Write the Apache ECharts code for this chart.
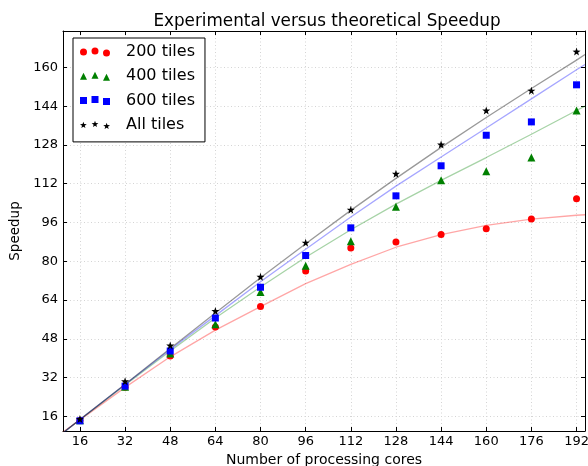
<!DOCTYPE html>
<html>
<head>
<meta charset="utf-8">
<script src="https://cdn.jsdelivr.net/npm/echarts@6/dist/echarts.min.js"></script>
<style>
html,body{margin:0;padding:0;background:#fff;}
#main{width:588px;height:466px;}
</style>
</head>
<body>
<div id="main"></div>
<script>
// ---- data ----
const cores = [16, 32, 48, 64, 80, 96, 112, 128, 144, 160, 176, 192];
const tiles200 = [14.3, 28.0, 40.9, 52.9, 61.4, 76.0, 85.5, 88.0, 91.1, 93.4, 97.5, 105.8];
const tiles400 = [14.4, 28.3, 42.0, 54.0, 67.3, 78.2, 88.3, 102.5, 113.4, 117.1, 122.8, 142.2];
const tiles600 = [14.2, 28.5, 43.0, 56.6, 69.3, 82.4, 93.8, 107.0, 119.4, 132.0, 137.5, 152.8];
const tilesAll = [14.9, 30.5, 45.3, 59.5, 73.6, 87.7, 101.3, 116.1, 128.2, 142.2, 150.4, 166.5];

// theoretical curves
const theoX = [10, 16, 32, 48, 64, 80, 96, 112, 128, 144, 160, 176, 192, 195];
const theo200 = [9.6, 14.6, 28.0, 40.6, 51.6, 61.3, 70.8, 78.7, 85.8, 91.0, 94.8, 97.4, 99.0, 99.2];
const theo400 = [9.3, 14.6, 29.0, 43.0, 56.6, 69.4, 81.7, 93.0, 103.6, 113.4, 122.8, 132.4, 142.2, 144.0];
const theo600 = [9.2, 14.7, 29.2, 43.6, 57.6, 71.6, 85.0, 98.3, 111.0, 123.0, 135.0, 147.0, 159.0, 161.2];
const theoAll = [9.2, 14.7, 29.3, 44.0, 58.7, 73.2, 87.2, 101.0, 114.2, 127.0, 139.3, 151.3, 163.0, 165.3];

const xTicks = [16, 32, 48, 64, 80, 96, 112, 128, 144, 160, 176, 192];
const yTicks = [16, 32, 48, 64, 80, 96, 112, 128, 144, 160];
const seriesNames = ['200 tiles', '400 tiles', '600 tiles', 'All tiles'];

// ---- helpers ----
function pairs(xs, ys) { return xs.map((x, i) => [x, ys[i]]); }
function circ(cx, cy, r) { return `M${cx - r},${cy} a${r},${r} 0 1,0 ${2 * r},0 a${r},${r} 0 1,0 ${-2 * r},0 Z `; }
function tri(cx, cy, r) { return `M${cx},${cy - r} L${cx + r},${cy + r} L${cx - r},${cy + r} Z `; }
function sq(cx, cy, r) { return `M${cx - r},${cy - r} L${cx + r},${cy - r} L${cx + r},${cy + r} L${cx - r},${cy + r} Z `; }
function star(cx, cy, r) {
  let s = '';
  for (let k = 0; k < 10; k++) {
    const a = (-90 + k * 36) * Math.PI / 180;
    const rr = (k % 2 === 0) ? r : r * 0.4;
    s += (k === 0 ? 'M' : 'L') + (cx + rr * Math.cos(a)).toFixed(3) + ',' + (cy + rr * Math.sin(a)).toFixed(3) + ' ';
  }
  return s + 'Z ';
}
function three(fn, r) {
  return 'path://' + fn(3.5, 4.5, r) + fn(15, 3.5, r) + fn(26.5, 5.5, r);
}
const starSymbol = 'path://' + star(0, 0, 10);

const FONT = 'DejaVu Sans';
const red = '#ff0000', green = '#008000', blue = '#0000ff', black = '#000000';

const axisCommon = {
  min: 10,
  axisLine: { show: true, onZero: false, lineStyle: { color: '#000', width: 1 } },
};
const gridLine = { color: '#d4d4d4', type: [1, 2.5], width: 1 };

const option = {
  animation: false,
  backgroundColor: '#ffffff',
  textStyle: { fontFamily: FONT },
  title: {
    text: 'Experimental versus theoretical Speedup',
    left: 322, top: 8, textAlign: 'center',
    textStyle: { fontFamily: FONT, fontSize: 16.8, fontWeight: 'normal', color: '#000' }
  },
  grid: { left: 63, right: 3, top: 31, bottom: 35, containLabel: false, outerBoundsMode: 'none' },
  legend: {
    orient: 'vertical',
    left: 73, top: 38,
    padding: [5, 10, 8, 7],
    itemGap: 6.3,
    itemWidth: 30, itemHeight: 9,
    backgroundColor: '#fff',
    borderColor: '#000', borderWidth: 1, borderRadius: 0,
    selectedMode: false,
    textStyle: { fontFamily: FONT, fontSize: 16, color: '#000', lineHeight: 18, padding: [0, 0, 0, 11] },
    data: [
      { name: seriesNames[0], icon: three(circ, 3.5), itemStyle: { color: red } },
      { name: seriesNames[1], icon: three(tri, 3.5), itemStyle: { color: green } },
      { name: seriesNames[2], icon: three(sq, 3.5), itemStyle: { color: blue } },
      { name: seriesNames[3], icon: three(star, 3.5), itemStyle: { color: black } }
    ]
  },
  xAxis: [
    Object.assign({}, axisCommon, {
      type: 'value', max: 195, position: 'bottom',
      name: 'Number of processing cores', nameLocation: 'middle', nameGap: 22,
      nameTextStyle: { fontFamily: FONT, fontSize: 14, color: '#000' },
      axisTick: { show: true, inside: true, length: 4, customValues: xTicks, lineStyle: { color: '#000' } },
      axisLabel: { show: true, customValues: xTicks, margin: 4, fontFamily: FONT, fontSize: 13, color: '#000' },
      splitLine: { show: true, customValues: xTicks, lineStyle: gridLine }
    }),
    Object.assign({}, axisCommon, {
      type: 'value', max: 195, position: 'top',
      axisTick: { show: true, inside: true, length: 4, customValues: xTicks, lineStyle: { color: '#000' } },
      axisLabel: { show: false },
      splitLine: { show: false }
    })
  ],
  yAxis: [
    Object.assign({}, axisCommon, {
      type: 'value', max: 175, position: 'left',
      name: 'Speedup', nameLocation: 'middle', nameGap: 39,
      nameTextStyle: { fontFamily: FONT, fontSize: 13.5, color: '#000' },
      axisTick: { show: true, inside: true, length: 4, customValues: yTicks, lineStyle: { color: '#000' } },
      axisLabel: { show: true, customValues: yTicks, margin: 5, fontFamily: FONT, fontSize: 13, color: '#000' },
      splitLine: { show: true, customValues: yTicks, lineStyle: gridLine }
    }),
    Object.assign({}, axisCommon, {
      type: 'value', max: 175, position: 'right',
      axisTick: { show: true, inside: true, length: 4, customValues: yTicks, lineStyle: { color: '#000' } },
      axisLabel: { show: false },
      splitLine: { show: false }
    })
  ],
  series: [
    { type: 'line', name: 'theo200', data: pairs(theoX, theo200), smooth: false, showSymbol: false, symbol: 'none', clip: true, lineStyle: { color: 'rgba(255,0,0,0.35)', width: 1.3 }, z: 1, silent: true },
    { type: 'line', name: 'theo400', data: pairs(theoX, theo400), smooth: false, showSymbol: false, symbol: 'none', clip: true, lineStyle: { color: 'rgba(0,128,0,0.35)', width: 1.3 }, z: 1, silent: true },
    { type: 'line', name: 'theo600', data: pairs(theoX, theo600), smooth: false, showSymbol: false, symbol: 'none', clip: true, lineStyle: { color: 'rgba(0,0,255,0.35)', width: 1.3 }, z: 1, silent: true },
    { type: 'line', name: 'theoAll', data: pairs(theoX, theoAll), smooth: false, showSymbol: false, symbol: 'none', clip: true, lineStyle: { color: 'rgba(0,0,0,0.4)', width: 1.3 }, z: 1, silent: true },
    { type: 'scatter', name: seriesNames[0], data: pairs(cores, tiles200), symbol: 'circle', symbolSize: 7, itemStyle: { color: red, opacity: 1 }, z: 3 },
    { type: 'scatter', name: seriesNames[1], data: pairs(cores, tiles400), symbol: 'triangle', symbolSize: 8, itemStyle: { color: green, opacity: 1 }, z: 3 },
    { type: 'scatter', name: seriesNames[2], data: pairs(cores, tiles600), symbol: 'rect', symbolSize: 7, itemStyle: { color: blue, opacity: 1 }, z: 3 },
    { type: 'scatter', name: seriesNames[3], data: pairs(cores, tilesAll), symbol: starSymbol, symbolSize: 8, itemStyle: { color: black, opacity: 1 }, z: 3 }
  ]
};

const chart = echarts.init(document.getElementById('main'), null, { renderer: 'canvas' });
chart.setOption(option);
</script>
</body>
</html>
